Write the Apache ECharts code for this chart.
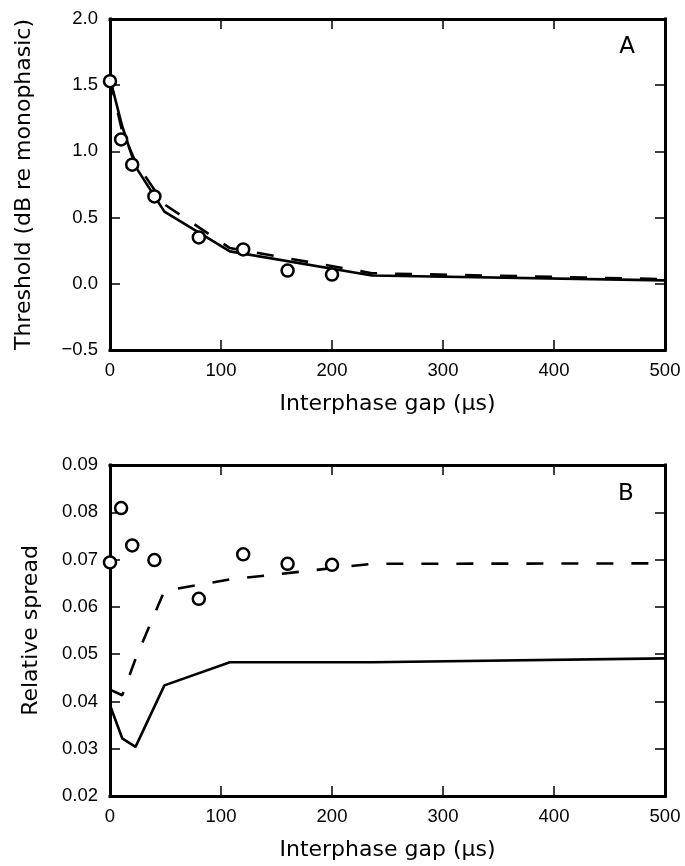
<!DOCTYPE html>
<html>
<head>
<meta charset="utf-8">
<script src="https://cdn.jsdelivr.net/npm/echarts@6/dist/echarts.min.js"></script>
<style>
  html, body { margin: 0; padding: 0; background: #fff; }
  #chart { width: 685px; height: 866px; }
</style>
</head>
<body>
<div id="chart"></div>
<script>
// Interphase gaps (µs) of the measured points
const gapData = [0, 10, 20, 40, 80, 120, 160, 200];
// Panel A: measured thresholds (dB re monophasic)
const thresholdMeasured = [1.53, 1.09, 0.90, 0.66, 0.35, 0.26, 0.10, 0.07];
// Interphase gaps (µs) at which the model curves are evaluated
const gapModel = [0, 11, 23, 49, 108, 236, 500];
// Panel A: model thresholds
const thresholdModelSolid = [1.55, 1.19, 0.885, 0.545, 0.245, 0.063, 0.026];
const thresholdModelDashed = [1.55, 1.15, 0.92, 0.60, 0.27, 0.080, 0.035];
// Panel B: measured relative spread
const spreadMeasured = [0.0694, 0.0809, 0.0730, 0.0699, 0.0617, 0.0711, 0.0691, 0.0689];
// Panel B: model relative spread
const spreadModelSolid = [0.0392, 0.0322, 0.0304, 0.0434, 0.0483, 0.0483, 0.0491];
const spreadModelDashed = [0.0425, 0.0413, 0.0490, 0.0634, 0.0658, 0.0691, 0.0692];
// Axis ticks
const xTicks = { min: 0, max: 500, step: 100 };
const yTicksA = { min: -0.5, max: 2.0, step: 0.5 };
const yTicksB = { min: 0.02, max: 0.09, step: 0.01 };

const pairs = (xs, ys) => xs.map((x, i) => [x, ys[i]]);

const BLACK = '#000';
const tickFont = { fontFamily: 'Liberation Sans', fontSize: 18.5, color: BLACK };
const titleFont = { fontFamily: 'DejaVu Sans', fontSize: 22, color: BLACK };
const lineAxis = { show: true, onZero: false, lineStyle: { color: BLACK, width: 3, cap: 'square' } };
const tickIn = { show: true, inside: true, length: 10, lineStyle: { color: BLACK, width: 1.5 } };

function xAxisPair(gridIndex) {
  return [
    {
      type: 'value', gridIndex, position: 'bottom',
      min: xTicks.min, max: xTicks.max, interval: xTicks.step,
      axisLine: lineAxis, axisTick: tickIn, splitLine: { show: false },
      axisLabel: Object.assign({ margin: 11 }, tickFont),
      name: 'Interphase gap (µs)', nameLocation: 'middle', nameGap: 43,
      nameTextStyle: titleFont
    },
    {
      type: 'value', gridIndex, position: 'top',
      min: xTicks.min, max: xTicks.max, interval: xTicks.step,
      axisLine: lineAxis, axisTick: tickIn, splitLine: { show: false },
      axisLabel: { show: false }
    }
  ];
}

function yAxisPair(gridIndex, t, fmt, name, gap) {
  return [
    {
      type: 'value', gridIndex, position: 'left',
      min: t.min, max: t.max, interval: t.step,
      axisLine: lineAxis, axisTick: tickIn, splitLine: { show: false },
      axisLabel: Object.assign({ margin: 12, formatter: fmt }, tickFont),
      name, nameLocation: 'middle', nameRotate: 90, nameGap: gap,
      nameTextStyle: titleFont
    },
    {
      type: 'value', gridIndex, position: 'right',
      min: t.min, max: t.max, interval: t.step,
      axisLine: lineAxis, axisTick: tickIn, splitLine: { show: false },
      axisLabel: { show: false }
    }
  ];
}

const fmtA = v => (v < 0 ? '\u2212' + Math.abs(v).toFixed(1) : v.toFixed(1));
const fmtB = v => v.toFixed(2);

function lineSeries(xi, yi, data, dashed) {
  return {
    type: 'line', xAxisIndex: xi, yAxisIndex: yi, data,
    symbol: 'none', clip: false, animation: false, z: 3,
    lineStyle: { color: BLACK, width: 2.6, type: dashed ? [17, 18] : 'solid' }
  };
}
function pointSeries(xi, yi, data) {
  return {
    type: 'scatter', xAxisIndex: xi, yAxisIndex: yi, data,
    symbol: 'circle', symbolSize: 12, clip: false, animation: false, z: 4,
    itemStyle: { color: '#fff', borderColor: BLACK, borderWidth: 2.5, opacity: 1 }
  };
}

const chart = echarts.init(document.getElementById('chart'), null, { renderer: 'canvas' });
chart.setOption({
  animation: false,
  backgroundColor: '#fff',
  grid: [
    { left: 110, top: 19, width: 555, height: 331 },
    { left: 110, top: 465, width: 555, height: 331 }
  ],
  xAxis: [...xAxisPair(0), ...xAxisPair(1)],
  yAxis: [
    ...yAxisPair(0, yTicksA, fmtA, 'Threshold (dB re monophasic)', 75),
    ...yAxisPair(1, yTicksB, fmtB, 'Relative spread', 68)
  ],
  series: [
    lineSeries(0, 0, pairs(gapModel, thresholdModelSolid), false),
    lineSeries(0, 0, pairs(gapModel, thresholdModelDashed), true),
    pointSeries(0, 0, pairs(gapData, thresholdMeasured)),
    lineSeries(2, 2, pairs(gapModel, spreadModelSolid), false),
    lineSeries(2, 2, pairs(gapModel, spreadModelDashed), true),
    pointSeries(2, 2, pairs(gapData, spreadMeasured))
  ],
  graphic: [
    { type: 'text', x: 627, y: 47, style: { text: 'A', fontFamily: 'DejaVu Sans', fontSize: 23, fill: BLACK, align: 'center', verticalAlign: 'middle' } },
    { type: 'text', x: 626, y: 494, style: { text: 'B', fontFamily: 'DejaVu Sans', fontSize: 23, fill: BLACK, align: 'center', verticalAlign: 'middle' } }
  ]
});
</script>
</body>
</html>
